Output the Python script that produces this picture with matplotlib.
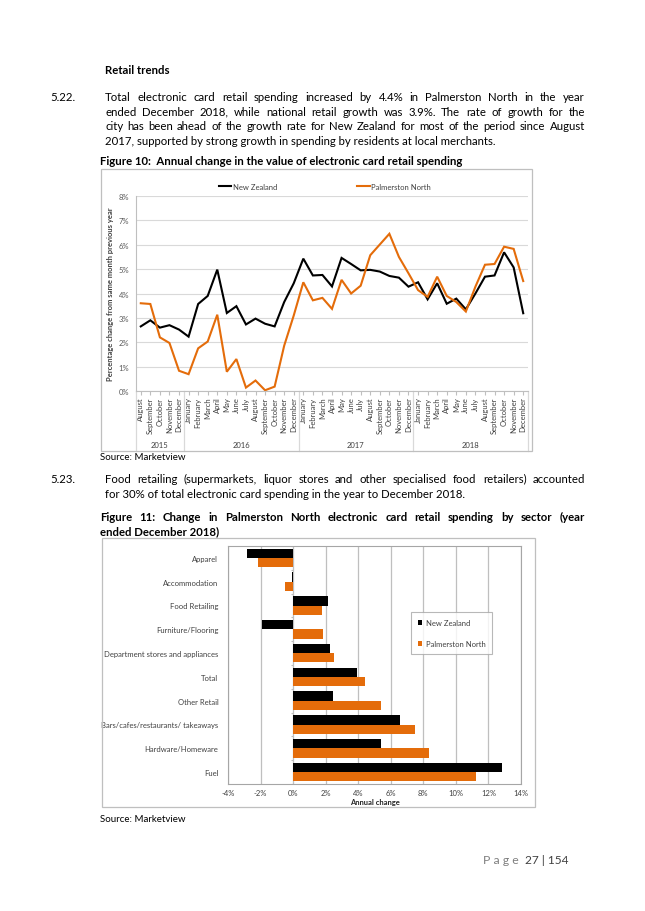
import math
import matplotlib
matplotlib.use("Agg")
import matplotlib.pyplot as plt
from matplotlib.font_manager import FontProperties
import numpy as np

# ---------------- data ----------------
months_2015 = ["August", "September", "October", "November", "December"]
months_full = ["January", "February", "March", "April", "May", "June", "July",
               "August", "September", "October", "November", "December"]
month_labels = months_2015 + months_full * 3
years = ["2015", "2016", "2017", "2018"]
year_counts = [5, 12, 12, 12]

nz_line = [2.65, 2.9, 2.6, 2.7, 2.52, 2.23, 3.57, 3.9, 4.98, 3.2, 3.48, 2.73, 2.97,
           2.76, 2.65, 3.65, 4.42, 5.43, 4.74, 4.76, 4.29, 5.46, 5.21, 4.95, 4.97,
           4.9, 4.72, 4.65, 4.28, 4.46, 3.76, 4.42, 3.58, 3.79, 3.35, 4.0, 4.69,
           4.74, 5.69, 5.07, 3.19]
pn_line = [3.6, 3.57, 2.2, 1.97, 0.83, 0.69, 1.75, 2.03, 3.13, 0.79, 1.31, 0.14, 0.43,
           0.03, 0.18, 1.86, 3.1, 4.46, 3.72, 3.82, 3.37, 4.56, 4.0, 4.32, 5.57,
           6.01, 6.45, 5.5, 4.83, 4.14, 3.86, 4.69, 3.9, 3.65, 3.26, 4.28, 5.18,
           5.21, 5.92, 5.83, 4.51]
y_ticks_line = [0, 1, 2, 3, 4, 5, 6, 7, 8]

sectors = ["Apparel", "Accommodation", "Food Retailing", "Furniture/Flooring",
           "Department stores and appliances", "Total", "Other Retail",
           "Bars/cafes/restaurants/ takeaways", "Hardware/Homeware", "Fuel"]
nz_sector = [-2.86, -0.06, 2.17, -1.9, 2.27, 3.9, 2.47, 6.58, 5.4, 12.82]
pn_sector = [-2.13, -0.47, 1.78, 1.86, 2.52, 4.42, 5.38, 7.46, 8.32, 11.25]
x_ticks_bar = [-4, -2, 0, 2, 4, 6, 8, 10, 12, 14]

series_names = ["New Zealand", "Palmerston North"]
NZ_COL = "#000000"
PN_COL = "#E46C0A"

# ---------------- page ----------------
W, H = 645, 912
fig = plt.figure(figsize=(W / 100, H / 100), dpi=100)
fig.patch.set_facecolor("white")
renderer = fig.canvas.get_renderer()

BODY = ["Lato", "DejaVu Sans"]
BS = 8.2  # body size (pt)


def fx(x):
    return x / W


def fy(y):
    return 1 - y / H


def base(y, size):
    # convert a visual centre line to a baseline position
    return y + 0.36 * size * 100 / 72


def raster_shift(word, B, kw):
    """Pixel offset the Agg rasteriser gives this word's baseline (so it can be undone)."""
    try:
        from matplotlib.backends.backend_agg import get_hinting_flag
        prop = FontProperties(family=kw.get("family"), size=kw.get("fontsize"),
                              weight=kw.get("weight", "normal"))
        font = renderer._prepare_font(prop)
        font.set_text(word, 0, flags=get_hinting_flag())
        _, hh = font.get_width_height()
        d = font.get_descent() / 64.0
        hh = hh / 64.0
        return round(B + d) - B - math.floor(hh) + math.floor(hh - d)
    except Exception:
        return 0


def put(x, y, s, **kw):
    kw.setdefault("family", BODY)
    kw.setdefault("fontsize", BS)
    return fig.text(fx(x), fy(base(y, kw["fontsize"])), s, va="baseline", **kw)


def justified(x0, x1, y, s, **kw):
    words = s.split()
    kw.setdefault("family", BODY)
    kw.setdefault("fontsize", BS)
    yb = round(base(y, kw["fontsize"]))
    ts = [fig.text(0, fy(yb), w, va="baseline", **kw) for w in words]
    widths = [t.get_window_extent(renderer).width for t in ts]
    gap = (x1 - x0 - sum(widths)) / (len(words) - 1)
    x = x0
    for t, w, wd in zip(ts, widths, words):
        e = raster_shift(wd, yb, kw)
        t.set_position((fx(x), fy(yb - e)))
        x += w + gap


# headings and paragraphs
put(105, 70, "Retail trends", weight="bold")
put(50, 97, "5.22.")
justified(105, 585, 97, "Total electronic card retail spending increased by 4.4% in Palmerston North in the year")
justified(105, 585, 111.5, "ended December 2018, while national retail growth was 3.9%.  The rate of growth for the")
justified(105, 585, 126, "city has been ahead of the growth rate for New Zealand for most of the period since August")
put(105, 140.5, "2017, supported by strong growth in spending by residents at local merchants.")
put(100, 160.5, "Figure 10:  Annual change in the value of electronic card retail spending", weight="bold")

put(100, 457, "Source: Marketview", fontsize=7.0)
put(50, 479, "5.23.")
justified(105, 585, 479, "Food retailing (supermarkets, liquor stores and other specialised food retailers) accounted")
put(105, 493.5, "for 30% of total electronic card spending in the year to December 2018.")
justified(100, 585, 516.5, "Figure 11:  Change in Palmerston North electronic card retail spending by sector (year", weight="bold")
put(100, 531, "ended December 2018)", weight="bold")
put(100, 819, "Source: Marketview", fontsize=7.0)

put(483, 860, "P a g e", color="#7f7f7f", fontsize=8.8)
put(525, 860, "27 | 154", color="#404040", fontsize=8.6)

# chart borders
for (x0, y0, x1, y1) in [(101, 170, 532, 452), (102, 539, 535, 808)]:
    fig.add_artist(plt.Rectangle((fx(x0), fy(y1)), fx(x1) - fx(x0), fy(y0) - fy(y1),
                                 transform=fig.transFigure, fill=False,
                                 edgecolor="#bfbfbf", lw=0.9))

TF = ["Lato", "DejaVu Sans"]
TS = 5.5

# ---------------- line chart ----------------
ax1 = fig.add_axes([fx(136), fy(392), fx(528) - fx(136), fy(197) - fy(392)])
n = len(nz_line)
xs = np.arange(n)
ax1.plot(xs, nz_line, color=NZ_COL, lw=1.5, label=series_names[0], solid_joinstyle="miter")
ax1.plot(xs, pn_line, color=PN_COL, lw=1.5, label=series_names[1], solid_joinstyle="miter")
ax1.set_xlim(-0.5, n - 0.5)
ax1.set_ylim(0, 8)
ax1.set_yticks(y_ticks_line)
ax1.set_yticklabels([f"{v}%" for v in y_ticks_line], family=TF, fontsize=TS, color="#595959")
ax1.yaxis.grid(True, color="#d9d9d9", lw=0.8)
ax1.set_axisbelow(True)
ax1.tick_params(axis="y", length=0, pad=5)
ax1.set_xticks(xs)
ax1.set_xticklabels(month_labels, rotation=90, family=TF, fontsize=TS, color="#404040", va="top")
ax1.tick_params(axis="x", length=3, color="#bfbfbf", pad=1)
for sp in ["top", "right"]:
    ax1.spines[sp].set_visible(False)
ax1.spines["left"].set_color("#bfbfbf")
ax1.spines["bottom"].set_color("#bfbfbf")
ax1.set_ylabel("Percentage change from same month previous year", family=TF, fontsize=TS,
               weight="bold", color="#404040", labelpad=3)

# year groups
trans = ax1.get_xaxis_transform()
bounds = np.concatenate([[0], np.cumsum(year_counts)]) - 0.5
axis_h = 392 - 197
y_bottom = -(452 - 392) / axis_h
for b in bounds:
    ax1.plot([b, b], [0, y_bottom], transform=trans, color="#d9d9d9", lw=0.9, clip_on=False)
for yr, a, b in zip(years, bounds[:-1], bounds[1:]):
    ax1.text((a + b) / 2, -(445 - 392) / axis_h, yr, transform=trans, ha="center",
             va="center", family=TF, fontsize=TS, color="#404040")

leg1 = ax1.legend(loc="center", bbox_to_anchor=(fx(325), fy(187)), bbox_transform=fig.transFigure,
                  ncol=2, frameon=False, handlelength=1.6, handletextpad=0.2,
                  columnspacing=10.5, prop={"family": TF, "size": TS})
for t in leg1.get_texts():
    t.set_color("#404040")

# ---------------- bar chart ----------------
ax2 = fig.add_axes([fx(228), fy(785), fx(521) - fx(228), fy(547) - fy(785)])
ys = np.arange(len(sectors))
h = 0.39
ax2.barh(ys - h / 2, nz_sector, height=h, color=NZ_COL, label=series_names[0])
ax2.barh(ys + h / 2, pn_sector, height=h, color=PN_COL, label=series_names[1])
ax2.set_ylim(len(sectors) - 0.5, -0.5)
ax2.set_xlim(-4, 14)
ax2.set_xticks(x_ticks_bar)
ax2.set_xticklabels([f"{v}%" for v in x_ticks_bar], family=TF, fontsize=TS, color="#404040")
ax2.tick_params(axis="x", length=0, pad=3.5)
ax2.xaxis.grid(True, color="#bfbfbf", lw=0.9)
ax2.set_axisbelow(True)
ax2.set_yticks(ys)
ax2.set_yticklabels(sectors, family=TF, fontsize=TS, color="#404040")
ax2.tick_params(axis="y", length=0, pad=7)
ax2.hlines(np.arange(len(sectors) + 1) - 0.5, -0.12, 0, color="#bfbfbf", lw=0.8)
for sp in ax2.spines.values():
    sp.set_color("#a6a6a6")
    sp.set_linewidth(0.8)
ax2.set_xlabel("Annual change", family=TF, fontsize=TS, weight="bold", color="#262626", labelpad=1.5)

leg2 = ax2.legend(loc="upper left", bbox_to_anchor=(fx(411), fy(613)), bbox_transform=fig.transFigure,
                  borderaxespad=0, frameon=True, fancybox=False, edgecolor="#a6a6a6",
                  handlelength=0.6, handleheight=0.6, handletextpad=0.4, labelspacing=1.9,
                  borderpad=0.9, prop={"family": TF, "size": TS})
leg2.get_frame().set_linewidth(0.8)
for t in leg2.get_texts():
    t.set_color("#404040")

fig.savefig("out.png", dpi=100, facecolor="white")
